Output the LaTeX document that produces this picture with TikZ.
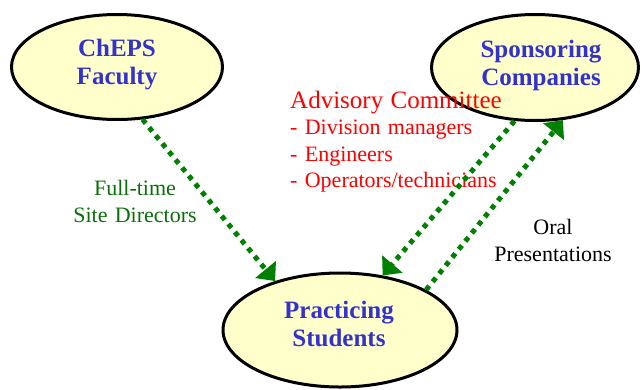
\documentclass[tikz,border=0pt]{standalone}
\usepackage{fontspec}
\setmainfont{Liberation Serif}
\usetikzlibrary{shapes.geometric,arrows.meta}

\definecolor{bubblefill}{HTML}{FFFFCC}
\definecolor{titleblue}{HTML}{3333CC}
\definecolor{flowgreen}{HTML}{008000}
\definecolor{labelgreen}{HTML}{0A6E0A}
\definecolor{advred}{HTML}{FF0000}

\tikzset{
  bubble/.style={ellipse, draw=black, line width=3pt, fill=bubblefill, inner sep=0pt},
  bubbletext/.style={anchor=base, text width=220pt, align=center, inner sep=0pt,
    text=titleblue, font=\fontsize{25}{28.5}\selectfont\bfseries},
  sidetext/.style={anchor=base, text width=200pt, align=center, inner sep=0pt,
    font=\fontsize{22}{27.5}\selectfont},
  flow/.style={draw=flowgreen, line width=5pt, dash pattern=on 5pt off 5.4pt,
    -{Triangle[length=15pt,width=26pt,fill=flowgreen]}}
}

\begin{document}
\begin{tikzpicture}[x=1pt,y=-1pt]
\useasboundingbox (0,0) rectangle (642,389);

% the three parties
\node[bubble, minimum width=211pt, minimum height=105pt] (fac) at (117,67) {};
\node[bubble, minimum width=207pt, minimum height=106pt] (spon) at (535,67.5) {};
\node[bubble, minimum width=234pt, minimum height=114pt] (prac) at (340,330) {};

\node[bubbletext] (facT) at (117,56) {ChEPS\\Faculty};
\node[bubbletext] (sponT) at (541,57) {Sponsoring\\Companies};
\node[bubbletext] (pracT) at (339,318) {Practicing\\Students};

% link labels
\node[sidetext, text=labelgreen] (site) at (135,195) {Full-time\\Site Directors};
\node[sidetext, text=black] (oral) at (553,234) {Oral\\Presentations};

\node[anchor=base west, text width=260pt, align=left, inner sep=0pt, text=advred,
      font=\fontsize{22}{26.5}\selectfont] (adv) at (290,108)
  {{\fontsize{25}{26.5}\selectfont Advisory Committee}\\
   - Division managers\\
   - Engineers\\
   - Operators/technicians};

% dotted flows between the parties
\draw[flow] (fac.-64) -- (prac.143.6);
\draw[flow] (spon.-111.4) -- (prac.52.3);
\draw[flow] (prac.25.5) -- (spon.-62.2);
\end{tikzpicture}
\end{document}
